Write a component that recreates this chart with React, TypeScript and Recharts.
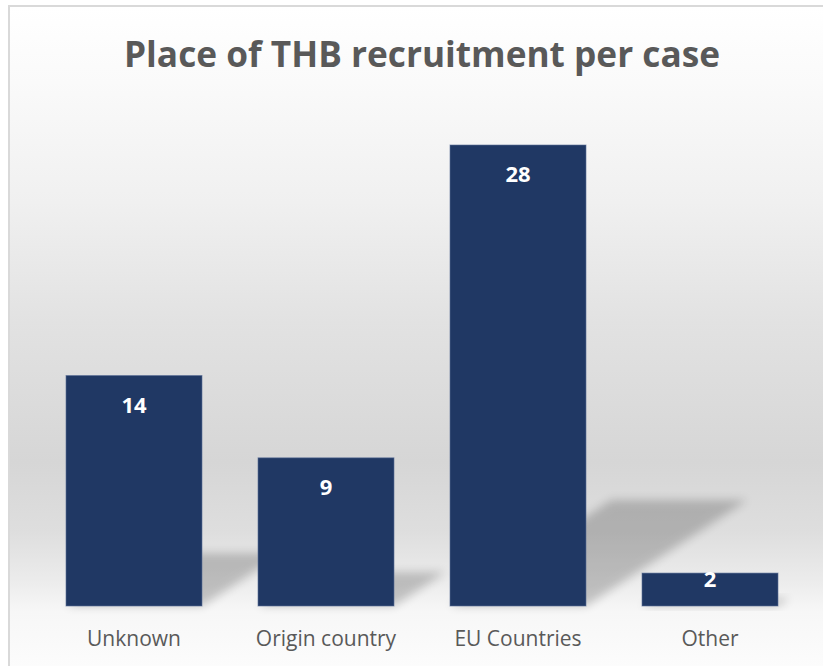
import React from 'react';
import { BarChart, Bar, XAxis, YAxis, LabelList } from 'recharts';

const categories = ['Unknown', 'Origin country', 'EU Countries', 'Other'];
const cases = [14, 9, 28, 2];
const title = 'Place of THB recruitment per case';

const data = categories.map((name, i) => ({ name, cases: cases[i] }));

const BAR_COLOR = '#203864';
const TEXT_GRAY = '#595959';
const FONT = '"Open Sans", "Noto Sans", sans-serif';

// bar with a soft perspective shadow falling to the upper right
function ShadowBar(props: any) {
  const { x, y, width, height, index } = props;
  if (!height || height <= 0) return null;
  const base = y + height;
  const s = height * 0.35;
  const k = height * 0.23;
  const id = `shadow-blur-${index}`;
  return (
    <g>
      <defs>
        <filter id={id} x="-30%" y="-60%" width="160%" height="220%">
          <feGaussianBlur stdDeviation="5" />
        </filter>
      </defs>
      <polygon
        points={`${x},${base} ${x + width},${base} ${x + width + s},${base - k} ${x + s},${base - k}`}
        fill="#000"
        opacity={0.2}
        filter={`url(#${id})`}
      />
      <rect x={x} y={y} width={width} height={height} fill={BAR_COLOR} stroke="#5b6f97" strokeOpacity={0.6} strokeWidth={1} />
    </g>
  );
}

function ValueLabel(props: any) {
  const { x, y, width, height, value } = props;
  const baseline = y + Math.min(37, height * 0.42);
  return (
    <text
      x={x + width / 2}
      y={baseline}
      textAnchor="middle"
      fill="#ffffff"
      fontFamily={FONT}
      fontWeight={700}
      fontSize={22}
    >
      {value}
    </text>
  );
}

export default function App() {
  return (
    <div style={{ position: 'absolute', left: 0, top: 0, width: 823, height: 666, overflow: 'hidden', background: '#fff' }}>
      <div
        style={{
          position: 'absolute',
          left: 8,
          top: 5,
          width: 840,
          height: 700,
          borderLeft: '2px solid #d9d9d9',
          borderTop: '2px solid #d9d9d9',
          background:
            'linear-gradient(to bottom, #ffffff 0px, #fafafa 75px, #f0f0f0 195px, #e2e2e2 315px, #d6d6d6 455px, #dedede 525px, #ececec 575px, #f7f7f7 605px, #fcfcfc 661px)',
        }}
      />
      <svg style={{ position: 'absolute', left: 0, top: 0 }} width={823} height={100}>
        <text
          x={422}
          y={67}
          textAnchor="middle"
          fill={TEXT_GRAY}
          fontFamily={FONT}
          fontWeight={700}
          fontSize={36}
          textLength={596}
          lengthAdjust="spacingAndGlyphs"
        >
          {title}
        </text>
      </svg>
      <div style={{ position: 'absolute', left: 0, top: 0 }}>
        <BarChart
          width={823}
          height={666}
          data={data}
          margin={{ top: 145, right: 17, bottom: 0, left: 38 }}
          barCategoryGap={28}
        >
          <XAxis
            dataKey="name"
            height={60}
            axisLine={false}
            tickLine={false}
            tickSize={0}
            tickMargin={25}
            tick={{ fill: TEXT_GRAY, fontSize: 21, fontFamily: FONT }}
            interval={0}
          />
          <YAxis hide domain={[0, 28]} />
          <Bar dataKey="cases" isAnimationActive={false} shape={ShadowBar}>
            <LabelList dataKey="cases" content={ValueLabel} />
          </Bar>
        </BarChart>
      </div>
    </div>
  );
}
